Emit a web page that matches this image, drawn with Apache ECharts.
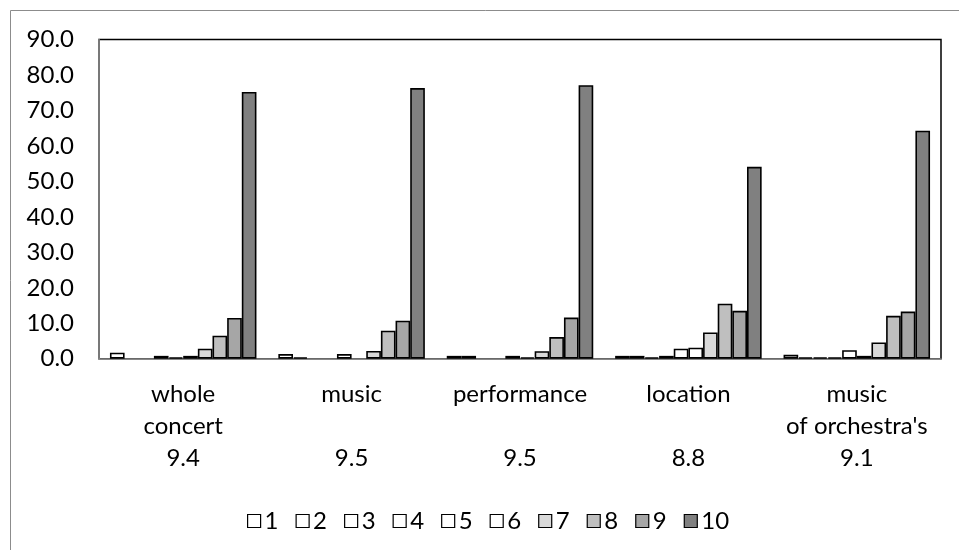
<!DOCTYPE html>
<html>
<head>
<meta charset="utf-8">
<script src="https://cdn.jsdelivr.net/npm/echarts@6/dist/echarts.min.js"></script>
<style>
html,body{margin:0;padding:0;background:#fff;}
#chart{width:959px;height:550px;}
</style>
</head>
<body>
<div id="chart"></div>
<script>
// Categories (aspect rated) and mean scores shown beneath them
const categories = ['whole\nconcert', 'music\n', 'performance\n', 'location\n', "music\nof orchestra's"];
const meanScores = ['9.4', '9.5', '9.5', '8.8', '9.1'];
// Rating levels (series names)
const ratingNames = ['1', '2', '3', '4', '5', '6', '7', '8', '9', '10'];
// Percentage of answers per rating, one array per rating, values per category
const r1  = [1.7, 1.3, 0.8, 0.8, 1.1];
const r2  = [0,   0.4, 0.8, 0.8, 0.4];
const r3  = [0,   0,   0,   0.4, 0.4];
const r4  = [0.8, 0,   0,   0.8, 0.4];
const r5  = [0.4, 1.3, 0.8, 2.8, 2.4];
const r6  = [0.8, 0,   0.4, 3.1, 0.8];
const r7  = [2.8, 2.2, 2.1, 7.4, 4.6];
const r8  = [6.5, 7.9, 6.1, 15.5, 12.1];
const r9  = [11.5, 10.7, 11.6, 13.5, 13.3];
const r10 = [75.2, 76.3, 77.1, 54.1, 64.3];
const ratingValues = [r1, r2, r3, r4, r5, r6, r7, r8, r9, r10];
// Y axis ticks
const yMin = 0, yMax = 90, yStep = 10;

const fills = ['#ffffff','#ffffff','#ffffff','#ffffff','#ffffff','#ffffff','#d9d9d9','#bfbfbf','#a6a6a6','#808080'];
const FONT = 'Lato';
const FS = 24;

const chart = echarts.init(document.getElementById('chart'), null, {renderer: 'canvas'});
const labels = categories.map((c, i) => c + '\n' + meanScores[i]);

chart.setOption({
  animation: false,
  backgroundColor: '#ffffff',
  textStyle: {fontFamily: FONT},
  graphic: [{
    type: 'rect', silent: true, z: -10,
    shape: {x: 10.5, y: 10.5, width: 1000, height: 1000},
    style: {fill: 'none', stroke: '#8c8c8c', lineWidth: 1}
  }],
  grid: {
    left: 99, right: 18, top: 39.5, bottom: 191.3,
    show: true, borderColor: '#000000', borderWidth: 1.5, backgroundColor: 'transparent'
  },
  legend: {
    left: 242, top: 504,
    itemWidth: 13, itemHeight: 13, itemGap: 17,
    icon: 'rect',
    textStyle: {fontFamily: FONT, fontSize: FS, color: '#000', padding: [0, 0, 0, -1]},
    itemStyle: {borderColor: '#000', borderWidth: 1.2},
    data: ratingNames
  },
  xAxis: {
    type: 'category',
    data: labels,
    axisLine: {show: true, lineStyle: {color: '#8c8c8c', width: 1.5}},
    axisTick: {show: false},
    axisLabel: {
      interval: 0, margin: 20, color: '#000',
      fontFamily: FONT, fontSize: FS, lineHeight: 32, align: 'center'
    }
  },
  yAxis: {
    type: 'value', min: yMin, max: yMax, interval: yStep,
    axisLine: {show: true, lineStyle: {color: '#8c8c8c', width: 1.5}},
    axisTick: {show: false},
    splitLine: {show: false},
    axisLabel: {
      margin: 25, color: '#000', fontFamily: FONT, fontSize: FS,
      formatter: v => v.toFixed(1)
    }
  },
  series: ratingNames.map((name, k) => ({
    name: name,
    type: 'bar',
    data: ratingValues[k].map(v => v === 0
      ? {value: v, itemStyle: {borderWidth: 0, opacity: 0}}
      : v),
    barGap: '0%',
    barCategoryGap: '13%',
    itemStyle: {color: fills[k], borderColor: '#000000', borderWidth: 1.6}
  }))
});
</script>
</body>
</html>
